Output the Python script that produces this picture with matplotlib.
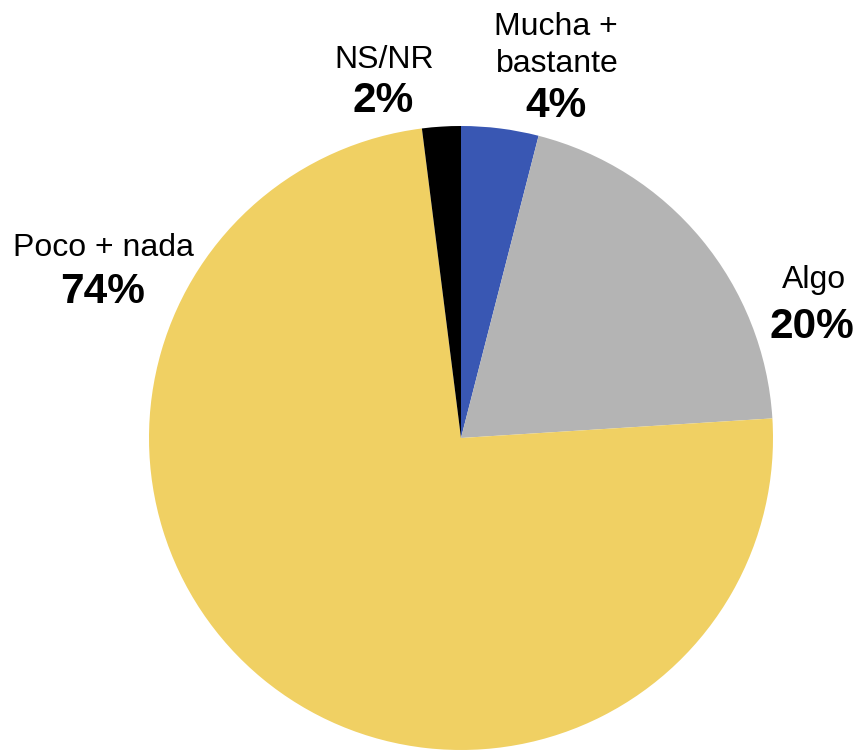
import matplotlib
matplotlib.use("Agg")
from matplotlib import pyplot as plt

labels = ["Mucha +\nbastante", "Algo", "Poco + nada", "NS/NR"]
values = [4, 20, 74, 2]
colors = ["#3957B3", "#B4B4B4", "#F0D063", "#000000"]

W, H = 857, 750
plt.rcParams["font.family"] = ["Liberation Sans", "DejaVu Sans"]

fig = plt.figure(figsize=(W / 100, H / 100), dpi=100)
ax = fig.add_axes([0, 0, 1, 1])

ax.pie(values, colors=colors, startangle=90, counterclock=False,
       center=(461, H - 438), radius=312, frame=True,
       wedgeprops=dict(linewidth=0))
ax.set_xlim(0, W)
ax.set_ylim(0, H)
ax.set_aspect("equal")
ax.axis("off")

# label lines: (x centre, baseline y in px from top)
name_pos = {
    "Mucha +\nbastante": [(556, 35), (557, 72)],
    "Algo": [(814, 288)],
    "Poco + nada": [(103, 256)],
    "NS/NR": [(384, 68)],
}
pct_pos = {
    "Mucha +\nbastante": (556, 117),
    "Algo": (812, 338),
    "Poco + nada": (103, 303),
    "NS/NR": (383, 112),
}

for lab, val in zip(labels, values):
    for line, (x, y) in zip(lab.split("\n"), name_pos[lab]):
        ax.text(x, H - y, line, ha="center", va="baseline", fontsize=23)
    x, y = pct_pos[lab]
    ax.text(x, H - y, f"{val}%", ha="center", va="baseline",
            fontsize=30.5, fontweight="bold")

fig.savefig("out.png", dpi=100)
